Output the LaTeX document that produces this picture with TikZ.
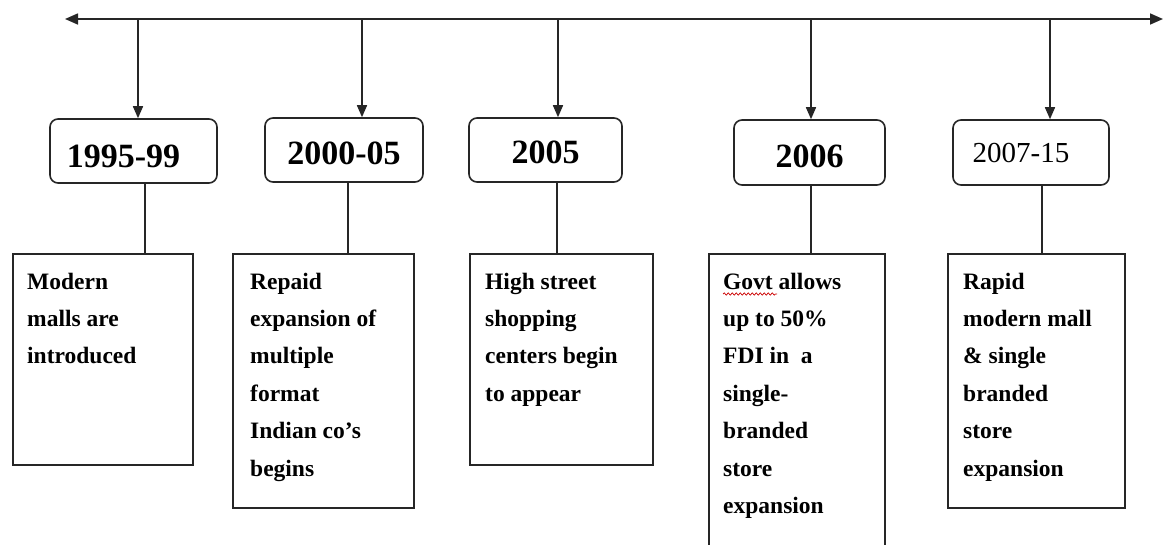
\documentclass[tikz,border=0pt]{standalone}
\usepackage{fontspec}
\setmainfont{Liberation Serif}
\usetikzlibrary{arrows.meta,calc,decorations.pathmorphing}

\tikzset{
  rule/.style={line width=1.6pt, draw=black!85},
  tip/.style={-{Triangle[length=12pt,width=10pt]}},
  yearbox/.style={rule, rounded corners=8pt, inner sep=0pt,
    font=\fontsize{34}{34}\selectfont\bfseries, text depth=0pt},
  descbox/.style={rule, inner sep=0pt, anchor=north west},
  desctext/.style={inner sep=0pt, anchor=base west,
    font=\fontsize{23.5}{37.4}\selectfont\bfseries},
}

\newcommand{\desclines}[2]{\parbox[t]{#1}{\raggedright #2}}

\begin{document}
\begin{tikzpicture}[x=1pt,y=-1pt]
  \clip (0,0) rectangle (1165,544);
  \fill[white] (0,0) rectangle (1165,544);

  % time axis
  \coordinate (axisL) at (65,19);
  \coordinate (axisR) at (1163,19);
  \draw[rule, {Triangle[length=13pt,width=11pt]}-{Triangle[length=13pt,width=11pt]}] (axisL) -- (axisR);
  \coordinate (t1) at (138,19);
  \coordinate (t2) at (362,19);
  \coordinate (t3) at (558,19);
  \coordinate (t4) at (811,19);
  \coordinate (t5) at (1050,19);

  % period boxes
  \node[yearbox, minimum width=167pt, minimum height=64pt, text height=32pt] (y1) at (133.5,151) {\kern-20pt 1995-99};
  \node[yearbox, minimum width=158pt, minimum height=64pt, text height=28pt] (y2) at (344,150) {2000-05};
  \node[yearbox, minimum width=153pt, minimum height=64pt, text height=26pt] (y3) at (545.5,150) {2005};
  \node[yearbox, minimum width=151pt, minimum height=65pt, text height=29pt] (y4) at (809.5,152.5) {2006};
  \node[yearbox, minimum width=156pt, minimum height=65pt, text height=19pt,
        font=\fontsize{29}{29}\selectfont] (y5) at (1031,152.5) {\kern-20pt 2007-15};

  % event boxes
  \node[descbox, minimum width=180pt, minimum height=211pt] (d1) at (12,253) {};
  \node[descbox, minimum width=181pt, minimum height=254pt] (d2) at (232,253) {};
  \node[descbox, minimum width=183pt, minimum height=211pt] (d3) at (469,253) {};
  \node[descbox, minimum width=176pt, minimum height=320pt] (d4) at (708,253) {};
  \node[descbox, minimum width=177pt, minimum height=254pt] (d5) at (947,253) {};

  \node[desctext] (e1) at (27,289) {\desclines{170pt}{Modern\\malls are\\introduced}};
  \node[desctext] (e2) at (250,289) {\desclines{170pt}{Repaid\\expansion of\\multiple\\format\\Indian co’s\\begins}};
  \node[desctext] (e3) at (485,289) {\desclines{170pt}{High street\\shopping\\centers begin\\to appear}};
  \node[desctext] (e4) at (723,289) {\desclines{170pt}{Govt allows\\up to 50\%\\FDI in~ a\\single-\\branded\\store\\expansion}};
  \node[desctext] (e5) at (963,289) {\desclines{170pt}{Rapid\\modern mall\\\& single\\branded\\store\\expansion}};

  % spell-check mark under "Govt"
  \coordinate (sqA) at (723,294);
  \coordinate (sqB) at (777,294);
  \draw[red!80!black, line width=0.7pt,
        decorate, decoration={snake, amplitude=1.1pt, segment length=4pt}] (sqA) -- (sqB);

  % arrows from the axis to the period boxes
  \foreach \i in {1,...,5} {
    \draw[rule, tip] (t\i) -- (t\i |- y\i.north);
  }

  % links from period boxes to event boxes
  \draw[rule] ([xshift=11.5pt]y1.south) -- ([xshift=11.5pt]y1.south |- d1.north);
  \draw[rule] ([xshift=4pt]y2.south) -- ([xshift=4pt]y2.south |- d2.north);
  \draw[rule] ([xshift=11.5pt]y3.south) -- ([xshift=11.5pt]y3.south |- d3.north);
  \draw[rule] ([xshift=1.5pt]y4.south) -- ([xshift=1.5pt]y4.south |- d4.north);
  \draw[rule] ([xshift=11pt]y5.south) -- ([xshift=11pt]y5.south |- d5.north);
\end{tikzpicture}
\end{document}
